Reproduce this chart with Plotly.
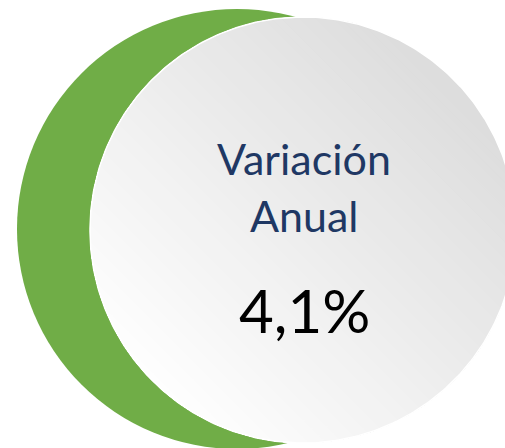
import numpy as np
import plotly.graph_objects as go

# ---- data ----
title_lines = ["Variación", "Anual"]
annual_change = 4.1  # percent
value_label = f"{annual_change:.1f}".replace(".", ",") + "%"

W, H = 505, 448
# geometry (pixel space)
green_c = (237, 229)
green_r = 220
gray_c = (303, 230)
gray_r = 213

fig = go.Figure()

# green back circle
fig.add_shape(type="circle", xref="x", yref="y",
              x0=green_c[0] - green_r, x1=green_c[0] + green_r,
              y0=green_c[1] - green_r, y1=green_c[1] + green_r,
              fillcolor="#70ad47", line=dict(width=0), layer="below")

# gray circle with diagonal gradient (dark top-right -> light bottom-left)
d = np.array([1.0, -1.0]) / np.sqrt(2)   # up-right direction (y down)
e = np.array([1.0, 1.0]) / np.sqrt(2)
dark = np.array([221, 221, 221])
light = np.array([254, 254, 254])
N = 70
cx, cy = gray_c
r = gray_r
for k in range(N):
    c = r - 2 * r * k / N
    t = k / (N - 1)
    col = dark + (light - dark) * t
    a0 = np.arccos(np.clip(c / r, -1, 1))
    th = np.linspace(a0, 2 * np.pi - a0, 200)
    u = r * np.cos(th)
    v = r * np.sin(th)
    xs = cx + u * d[0] + v * e[0]
    ys = cy + u * d[1] + v * e[1]
    fig.add_trace(go.Scatter(x=np.append(xs, xs[0]), y=np.append(ys, ys[0]),
                             mode="lines", fill="toself",
                             fillcolor=f"rgb({int(col[0])},{int(col[1])},{int(col[2])})",
                             line=dict(width=0), hoverinfo="skip", showlegend=False))

# thin white outline
th = np.linspace(0, 2 * np.pi, 400)
fig.add_trace(go.Scatter(x=cx + r * np.cos(th), y=cy + r * np.sin(th), mode="lines",
                         line=dict(color="white", width=1.5), hoverinfo="skip",
                         showlegend=False))

navy = "#1f3864"
fig.add_annotation(x=304, y=158, xref="x", yref="y", text=title_lines[0],
                   showarrow=False, font=dict(family="Lato", size=43, color=navy))
fig.add_annotation(x=304, y=215, xref="x", yref="y", text=title_lines[1],
                   showarrow=False, font=dict(family="Lato", size=43, color=navy))
fig.add_annotation(x=304, y=310, xref="x", yref="y", text=value_label,
                   showarrow=False, font=dict(family="Lato", size=60, color="black"))

fig.update_layout(width=W, height=H, margin=dict(l=0, r=0, t=0, b=0),
                  paper_bgcolor="white", plot_bgcolor="white", showlegend=False,
                  xaxis=dict(range=[0, W], visible=False, fixedrange=True),
                  yaxis=dict(range=[H, 0], visible=False, fixedrange=True))

fig.write_html("out.html", config={"displayModeBar": False},
               post_script="document.body.style.margin='0';document.body.style.overflow='hidden';")
